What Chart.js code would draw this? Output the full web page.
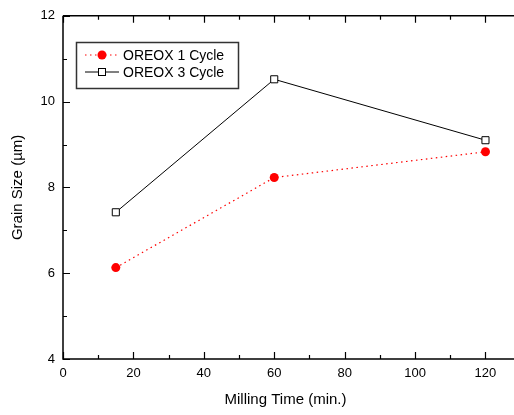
<!DOCTYPE html>
<html>
<head>
  <meta charset="utf-8">
  <title>Grain Size vs Milling Time</title>
  <script src="https://cdn.jsdelivr.net/npm/chart.js@4"></script>
  <style>
    html, body { margin: 0; padding: 0; background: #fff; }
  </style>
</head>
<body>
  <canvas id="myChart" width="514" height="415"></canvas>
  <script>
    // data
    var millingTime = [15, 60, 120];
    var oreox1 = [6.13, 8.23, 8.83];
    var oreox3 = [7.42, 10.52, 9.1];
    var seriesNames = ['OREOX 1 Cycle', 'OREOX 3 Cycle'];
    var xTicks = [0, 20, 40, 60, 80, 100, 120];
    var yTicks = [4, 6, 8, 10, 12];

    function pts(ys) {
      return millingTime.map(function (x, i) { return { x: x, y: ys[i] }; });
    }

    // inward ticks on all four sides + the boxed legend
    var frame = {
      id: 'frame',
      afterDraw: function (chart) {
        var c = chart.ctx, a = chart.chartArea;
        var xs = chart.scales.x, ys = chart.scales.y;
        c.save();
        c.strokeStyle = '#000';
        c.lineWidth = 1.5;
        c.beginPath();
        c.moveTo(a.left, a.top); c.lineTo(a.left, a.bottom); c.lineTo(chart.width, a.bottom);
        c.moveTo(a.left, a.top); c.lineTo(chart.width, a.top);
        c.stroke();
        c.lineWidth = 1.2;
        c.beginPath();
        for (var v = 0; v <= 120; v += 10) {
          var px = Math.round(xs.getPixelForValue(v)) + 0.5;
          var len = v % 20 === 0 ? 7 : 4;
          c.moveTo(px, a.bottom); c.lineTo(px, a.bottom - len);
          c.moveTo(px, a.top); c.lineTo(px, a.top + len);
        }
        for (var w = 4; w <= 12; w += 1) {
          var py = Math.round(ys.getPixelForValue(w)) + 0.5;
          var l2 = w % 2 === 0 ? 7 : 4;
          c.moveTo(a.left, py); c.lineTo(a.left + l2, py);
        }
        c.stroke();

        // legend box
        c.strokeStyle = '#333';
        c.lineWidth = 1.5;
        c.strokeRect(76.5, 42.5, 162, 46);
        c.font = '14px "Liberation Sans", Arial, sans-serif';
        c.textBaseline = 'middle';
        c.fillStyle = '#000';
        var rows = [55, 72];
        chart.data.datasets.forEach(function (ds, i) {
          var y = rows[i];
          c.save();
          c.strokeStyle = ds.borderColor;
          c.lineWidth = 1;
          c.setLineDash(ds.borderDash || []);
          c.beginPath(); c.moveTo(85, y); c.lineTo(119, y); c.stroke();
          c.restore();
          if (ds.pointStyle === 'rect') {
            c.fillStyle = '#fff';
            c.strokeStyle = '#000';
            c.lineWidth = 1;
            c.fillRect(98.5, y - 3.5, 7, 7);
            c.strokeRect(98.5, y - 3.5, 7, 7);
          } else {
            c.fillStyle = ds.pointBackgroundColor;
            c.beginPath(); c.arc(102, y, 4.5, 0, Math.PI * 2); c.fill();
          }
          c.fillStyle = '#000';
          c.fillText(ds.label, 123, y + 1);
        });
        c.restore();
      }
    };

    var font = '"Liberation Sans", Arial, sans-serif';
    var ctx = document.getElementById('myChart');
    var myChart = new Chart(ctx, {
      type: 'line',
      data: {
        datasets: [{
          label: seriesNames[0],
          data: pts(oreox1),
          borderColor: '#ff0000',
          borderWidth: 1.2,
          borderDash: [1.5, 3.5],
          pointStyle: 'circle',
          pointRadius: 4.5,
          pointBackgroundColor: '#ff0000',
          pointBorderColor: '#ff0000',
          pointBorderWidth: 0,
          tension: 0
        }, {
          label: seriesNames[1],
          data: pts(oreox3),
          borderColor: '#000',
          borderWidth: 1,
          pointStyle: 'rect',
          pointRadius: 5,
          pointBackgroundColor: '#fff',
          pointBorderColor: '#000',
          pointBorderWidth: 1,
          tension: 0
        }]
      },
      options: {
        responsive: false,
        animation: false,
        layout: { padding: { top: 15, right: 0, left: 0, bottom: 0 } },
        plugins: { legend: { display: false }, tooltip: { enabled: false } },
        scales: {
          x: {
            type: 'linear',
            min: 0, max: 126.4,
            border: { display: false },
            grid: { display: false, drawTicks: false },
            ticks: {
              autoSkip: false, padding: 7, color: '#000',
              font: { family: font, size: 13 }
            },
            afterBuildTicks: function (s) { s.ticks = xTicks.map(function (v) { return { value: v }; }); },
            title: { display: true, text: 'Milling Time (min.)', color: '#000',
              font: { family: font, size: 15 }, padding: { top: 0, bottom: 6 } },
            afterFit: function (s) { s.height = 56; }
          },
          y: {
            min: 4, max: 12,
            border: { display: false },
            grid: { display: false, drawTicks: false },
            ticks: { autoSkip: false, padding: 8, color: '#000', font: { family: font, size: 13 } },
            afterBuildTicks: function (s) { s.ticks = yTicks.map(function (v) { return { value: v }; }); },
            title: { display: true, text: 'Grain Size (µm)', color: '#000',
              font: { family: font, size: 15 }, padding: { top: 9, bottom: 0 } },
            afterFit: function (s) { s.width = 63; }
          }
        }
      },
      plugins: [frame]
    });
  </script>
</body>
</html>
